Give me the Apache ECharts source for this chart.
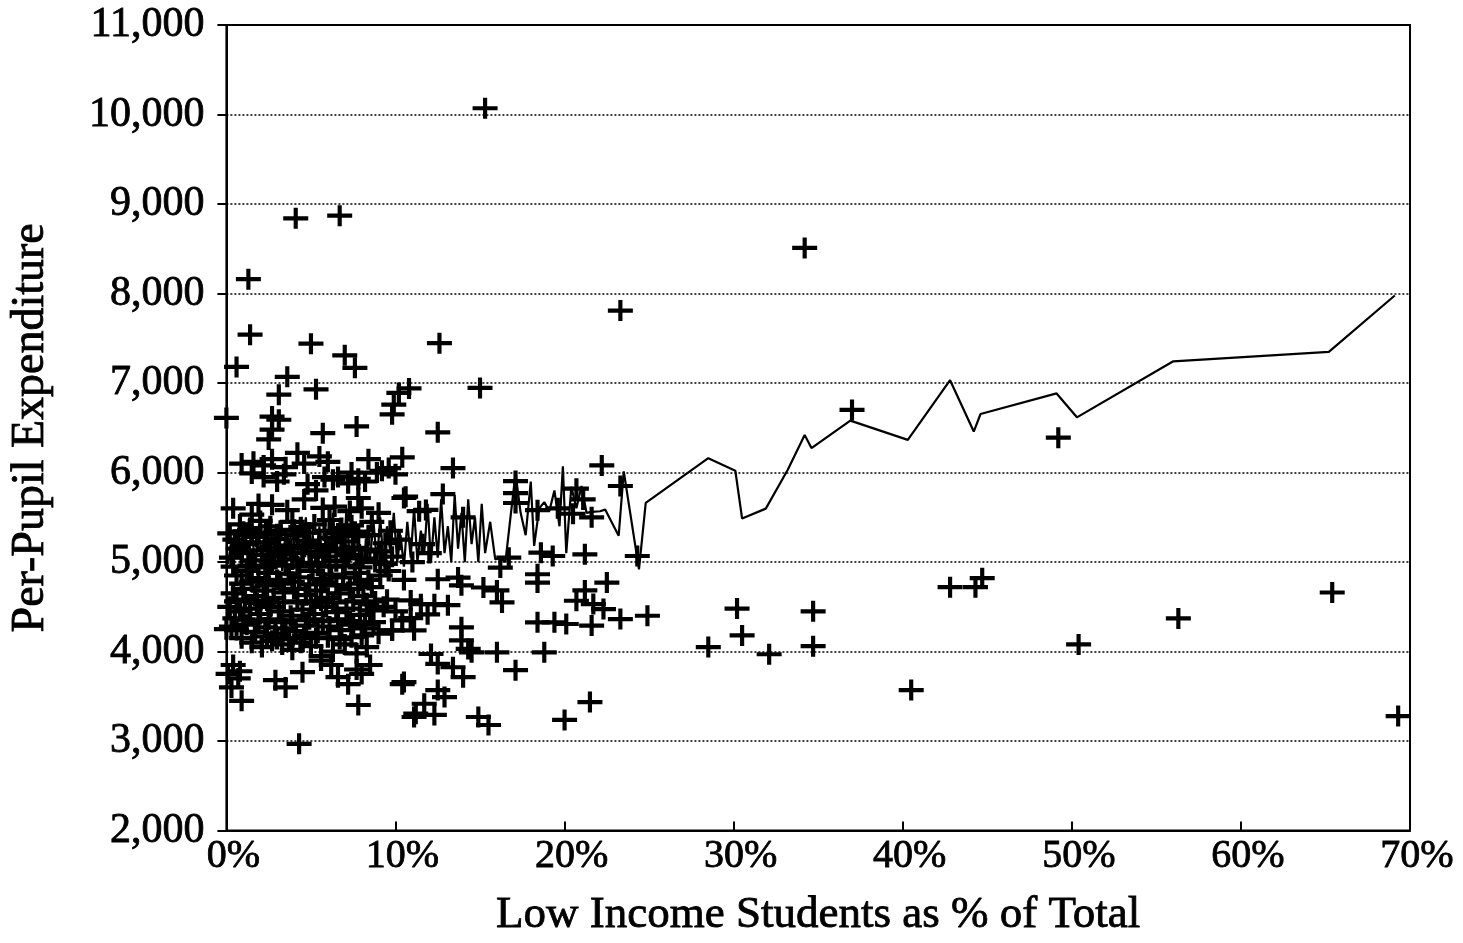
<!DOCTYPE html>
<html>
<head>
<meta charset="utf-8">
<title>Per-Pupil Expenditure vs Low Income Students</title>
<script src="https://cdn.jsdelivr.net/npm/echarts@6/dist/echarts.min.js"></script>
<style>
  html, body { margin: 0; padding: 0; background: #fff; }
  #chart { width: 1463px; height: 943px; }
</style>
</head>
<body>
<div id="chart"></div>
<script>
'use strict';

// ── Data ──────────────────────────────────────────────────────────────────────
const xTicks = [0, 10, 20, 30, 40, 50, 60, 70];
const yTicks = [2000, 3000, 4000, 5000, 6000, 7000, 8000, 9000, 10000, 11000];

// districts: [low income %, per-pupil expenditure]
const outliers = [
  [15.3,10070],[4.1,8840],[6.7,8870],[1.3,8160],[1.4,7540],[0.6,7180],[5.0,7440],
  [7.0,7310],[7.6,7170],[3.6,7070],[3.1,6870],[5.3,6930],[10.2,6890],[9.9,6760],
  [10.8,6940],[12.6,7445],[15.0,6945],[23.3,7810],[34.2,8510],[37.0,6700],[49.2,6390],
  [0.0,6610],[2.7,6625],[3.1,6590],[2.7,6480],[2.5,6370],[5.7,6440],[7.7,6515],
  [12.5,6450],[9.8,6650]
];
const upperBand = [
  [0.9,6100],[1.6,6120],[2.2,6080],[2.7,6150],[3.5,6060],[4.2,6220],[4.6,6100],
  [5.5,6180],[6.0,6120],[6.6,5950],[7.4,6000],[8.4,6150],[9.6,6050],[10.4,6170],
  [9.2,6020],[13.4,6050],[22.2,6080],[23.3,5850],
  [1.5,5990],[2.2,5950],[3.0,5900],[3.4,5980],[4.8,5870],[5.3,5800],[5.8,5950],
  [6.3,5920],[7.2,5880],[7.8,5930],[8.2,5900],[8.9,6000],[10.0,5980],[10.6,5730],
  [2.7,5640],[1.5,5530],[5.7,5605],[7.3,5570],[7.8,5716],[10.5,5716],[11.8,5583],
  [11.4,5568],[17.1,5905],[17.1,5770],[17.1,5660],[12.8,5760],[14.0,5500],[18.4,5580],
  [19.6,5600],[20.7,5820],[21.1,5700],[20.5,5540],[21.6,5500]
];
const cluster = [
  [0.8,5420],[1.4,5380],[2.0,5460],[2.6,5400],[3.2,5350],[3.9,5450],[4.4,5390],
  [5.2,5420],[6.1,5470],[6.8,5380],[7.4,5410],[8.6,5450],
  [0.5,5250],[1.1,5200],[1.8,5280],[2.3,5220],[2.9,5260],[3.6,5180],[4.2,5300],
  [4.8,5240],[5.5,5190],[6.3,5270],[7.0,5230],[7.8,5290],[9.4,5210],[10.2,5250],
  [0.3,5050],[0.9,5100],[1.6,5020],[2.1,5080],[2.7,5000],[3.3,5090],[3.9,5030],
  [4.5,5100],[5.0,4990],[5.8,5060],[6.5,5010],[7.2,5080],[8.0,5040],[8.8,5000],[9.8,5060],
  [0.6,4850],[1.2,4900],[1.9,4820],[2.5,4880],[3.0,4800],[3.7,4870],[4.3,4830],
  [5.1,4900],[5.6,4810],[6.2,4860],[6.9,4830],[7.6,4880],[8.4,4800],[9.1,4850],
  [0.4,4650],[1.0,4700],[1.7,4620],[2.2,4680],[2.8,4600],[3.4,4660],[4.0,4700],
  [4.7,4630],[5.3,4680],[6.0,4600],[6.7,4650],[7.3,4700],[8.1,4620],[8.8,4560],
  [0.2,4500],[0.8,4450],[1.4,4480],[2.0,4420],[2.6,4500],[3.1,4450],[3.8,4400],
  [4.5,4470],[5.2,4420],[5.9,4500],[6.5,4440],[7.1,4480],[7.9,4410],[8.5,4460],[9.3,4500],
  [0.0,4250],[0.3,4280],[0.6,4240],[1.2,4300],[1.7,4220],[2.3,4270],[2.9,4200],
  [3.5,4260],[4.1,4230],[4.7,4290],[5.4,4210],[6.1,4280],[6.8,4240],[7.5,4300],
  [8.2,4260],[9.0,4200],
  [1.5,4100],[2.1,4050],[2.7,4120],[3.3,4080],[3.9,4020],[4.4,4100],[5.0,4060],
  [5.6,3950],[6.3,4000],[7.0,4080],[7.7,3980],[8.3,4050]
];
const clusterFill = [
  [0.4,5600],[1.9,5650],[3.6,5580],[4.6,5700],[6.4,5620],[8.0,5600],[9.0,5550],
  [0.2,5320],[1.0,5340],[1.5,5300],[2.4,5330],[3.0,5310],[4.0,5360],[4.9,5330],
  [5.8,5350],[6.6,5320],[7.6,5340],[8.4,5300],[9.7,5350],
  [0.7,5150],[1.3,5130],[2.5,5160],[3.1,5120],[3.8,5150],[4.6,5170],[5.3,5120],
  [6.0,5150],[6.8,5120],[7.5,5160],[8.3,5140],[9.1,5120],
  [0.4,4950],[1.4,4960],[2.3,4940],[3.5,4960],[4.2,4950],[5.4,4960],[6.1,4950],
  [7.0,4960],[7.9,4940],[9.4,4980],
  [0.9,4760],[1.5,4780],[2.4,4740],[3.2,4760],[3.9,4780],[4.9,4750],[5.8,4770],
  [6.5,4740],[7.8,4760],[8.6,4720],
  [0.6,4560],[1.1,4580],[1.8,4540],[2.4,4570],[3.4,4550],[4.2,4560],[5.0,4540],
  [5.6,4570],[6.3,4550],[7.5,4560],[8.3,4540],
  [0.5,4370],[1.0,4360],[1.9,4340],[2.5,4360],[3.3,4330],[3.9,4350],[4.9,4360],
  [5.7,4340],[6.6,4360],[7.3,4340],[8.7,4330],
  [0.9,4150],[2.4,4170],[3.0,4140],[3.7,4150],[4.6,4180],[5.3,4150],[6.0,4160],
  [6.7,4140],[7.4,4160],[8.0,4180]
];
const lowerBand = [
  [0.1,3750],[0.4,3850],[0.7,3700],[0.3,3600],[0.8,3780],[0.9,3450],[2.9,3680],
  [3.5,3600],[4.5,3770],[5.6,3900],[6.2,3850],[6.6,3714],[7.2,3636],[7.7,3800],
  [8.0,3750],[8.5,3850],[7.8,3403],[10.4,3636],[11.2,3306],[4.3,2969],
  [9.5,4580],[10.0,4450],[10.4,4349],[9.8,4237],[10.9,4571],[11.5,4530],[12.3,4530],
  [13.1,4518],[10.9,4373],[11.1,4237],[11.9,4416],[10.5,4800],[11.0,5000],[11.6,5200],
  [12.0,5100],[9.6,4900],[8.2,4304],[9.8,4237],
  [16.7,5049],[16.2,4938],[18.6,5105],[19.3,5068],[21.2,5086],[24.3,5068],[18.4,4864],
  [18.4,4771],[12.5,4808],[13.7,4827],[13.9,4740],[15.2,4716],[16.0,4683],[16.3,4549],
  [22.5,4771],[21.2,4683],[20.7,4568],[21.7,4531],[22.3,4475],[23.3,4363],[24.9,4400],
  [18.4,4327],[19.4,4327],[20.1,4308],[21.6,4290],
  [13.9,4271],[13.9,4126],[14.3,4030],[16.0,3992],[14.5,3992],[12.1,3973],[12.5,3862],
  [13.4,3825],[14.0,3714],[18.8,3992],[17.1,3792],[12.5,3570],[12.9,3492],[11.7,3417],
  [12.3,3292],[11.1,3269],[14.9,3269],[15.5,3180],[21.5,3436],[20.0,3236],[10.5,3659]
];
const sparse = [
  [30.2,4480],[30.5,4180],[32.1,3970],[34.7,4450],[34.7,4060],[28.5,4050],
  [40.5,3570],[42.8,4720],[44.3,4720],[44.7,4820],[50.4,4080],[56.3,4370],
  [65.4,4660],[69.3,3280]
];

// moving average line
const lineX = [
  0.1,0.3,0.5,0.7,0.9,1.1,1.3,1.5,1.7,1.9,2.1,2.3,2.5,2.7,2.9,3.1,3.3,3.5,3.7,3.9,
  4.1,4.3,4.5,4.7,4.9,5.1,5.3,5.5,5.7,5.9,6.1,6.3,6.5,6.7,6.9,7.1,7.3,7.5,7.7,7.9,
  8.1,8.3,8.5,8.7,8.9,9.1,9.3,9.5,9.7,9.9,10.1,10.3,10.5,10.7,10.9,11.1,11.3,11.5,11.7,11.9,
  12.1,12.3,12.5,12.7,12.9,13.1,13.3,13.5,13.7,13.9,14.1,14.3,14.5,14.7,14.9,15.1,15.3,15.6,15.9,16.2,
  16.5,16.8,17.1,17.4,17.7,18.0,18.2,18.5,18.8,19.1,19.4,19.7,19.9,20.1,20.4,20.7,21.0,21.3,21.6,22.1,
  22.4,23.2,23.5,24.4,24.8,28.5,30.1,30.5,31.9,33.2,34.2,34.6,36.9,40.3,42.8,44.2,44.6,49.1,50.3,56.0,
  65.2,69.1
];
const lineY = [
  4980,5250,5050,5380,4950,5300,5000,5420,4900,5350,5050,5450,4950,5300,5000,5400,4900,5350,5100,5450,
  4950,5250,5000,5500,4900,5300,5050,5400,4950,5350,5000,5550,5100,5450,4950,5600,5000,5350,4950,5200,
  4950,5300,5050,5450,5000,5500,4950,5400,5100,5550,5000,5300,4950,5450,5050,5600,5000,5350,5100,5650,
  5000,5500,5050,5700,5100,5400,5000,5750,5150,5550,5000,5700,5200,5500,5000,5650,5100,5450,5030,5050,
  5000,5500,5990,5550,5300,5900,5180,5600,5670,5570,5800,5400,6070,5100,5840,5600,5850,5550,5560,5568,
  5586,5294,6013,4919,5661,6161,6020,5486,5597,6031,6420,6273,6580,6365,7032,6458,6654,6884,6617,7243,
  7348,7978
];

const points = [].concat(outliers, upperBand, cluster, clusterFill, lowerBand, sparse);
const lineData = lineX.map((x, i) => [x, lineY[i]]);

// ── Chart ─────────────────────────────────────────────────────────────────────
const FONT = '"Liberation Serif", "Times New Roman", serif';
const PLUS = 'path://M0,8H24V12H0Z M10,0H14V20H10Z';
const ink = { color: '#000', textBorderColor: '#000', textBorderWidth: 0.8 };

const chart = echarts.init(document.getElementById('chart'), null, { renderer: 'canvas' });

chart.setOption({
  backgroundColor: '#fff',
  animation: false,
  grid: {
    left: 226, right: 53, top: 25, bottom: 109,
    show: true, borderColor: '#000', borderWidth: 2, backgroundColor: 'transparent'
  },
  xAxis: {
    type: 'value',
    min: xTicks[0], max: xTicks[xTicks.length - 1], interval: 10,
    name: 'Low Income Students as % of Total',
    nameLocation: 'middle', nameGap: 62,
    nameTextStyle: Object.assign({ fontFamily: FONT, fontSize: 45 }, ink),
    axisLine: { lineStyle: { color: '#000', width: 2 } },
    axisTick: { inside: true, length: 9, lineStyle: { color: '#000', width: 2 } },
    axisLabel: Object.assign({
      fontFamily: FONT, fontSize: 40, margin: 6, padding: [0, 0, 0, 14],
      formatter: v => v + '%'
    }, ink),
    splitLine: { show: false }
  },
  yAxis: {
    type: 'value',
    min: yTicks[0], max: yTicks[yTicks.length - 1], interval: 1000,
    name: 'Per-Pupil Expenditure',
    nameLocation: 'middle', nameGap: 172, nameRotate: 90,
    nameTextStyle: Object.assign({ fontFamily: FONT, fontSize: 46 }, ink),
    axisLine: { show: true, lineStyle: { color: '#000', width: 2 } },
    axisTick: { show: true, length: 9, lineStyle: { color: '#000', width: 2 } },
    axisLabel: Object.assign({
      fontFamily: FONT, fontSize: 42, margin: 22,
      formatter: v => v.toLocaleString('en-US')
    }, ink),
    splitLine: { lineStyle: { color: '#000', width: 1.5, type: [2, 2] } }
  },
  series: [
    {
      type: 'scatter',
      data: points,
      symbol: PLUS,
      symbolSize: [25, 21],
      itemStyle: { color: '#000', opacity: 1 }
    },
    {
      type: 'line',
      data: lineData,
      showSymbol: false,
      lineStyle: { color: '#000', width: 2.2 },
      z: 3
    }
  ]
});
</script>
</body>
</html>
